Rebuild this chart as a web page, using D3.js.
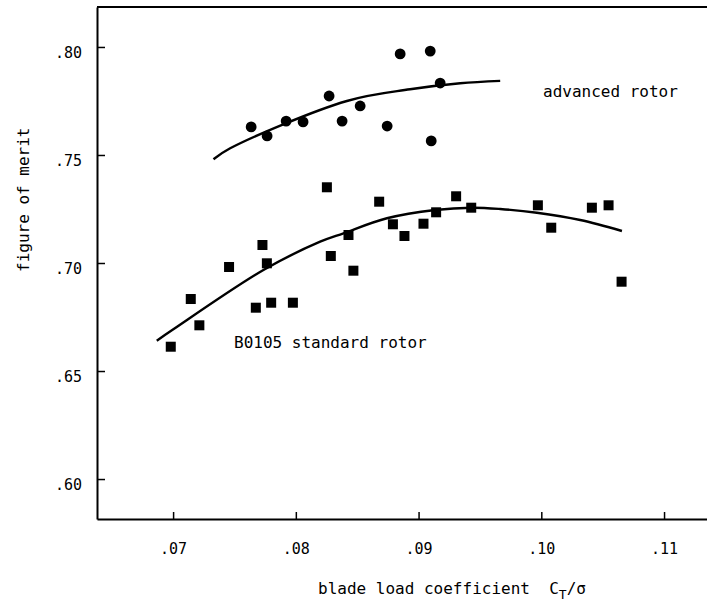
<!DOCTYPE html>
<html>
<head>
<meta charset="utf-8">
<script src="https://cdn.jsdelivr.net/npm/d3@7"></script>
<style>
  body { margin: 0; background: #fff; }
  #chart { width: 707px; height: 609px; }
  text { font-family: "DejaVu Sans Mono", monospace; fill: #000; }
</style>
</head>
<body>
<div id="chart"></div>
<script>
// advanced rotor (circles)
const advX = [0.07636, 0.07766, 0.07921, 0.08059, 0.08271, 0.08377, 0.08524, 0.08744, 0.0885, 0.09095, 0.09176, 0.09103];
const advY = [0.763, 0.7588, 0.7657, 0.7653, 0.7773, 0.7657, 0.7727, 0.7634, 0.7968, 0.7981, 0.7833, 0.7565];

// BO105 standard rotor (squares)
const stdX = [0.06981, 0.07214, 0.07144, 0.07456, 0.07674, 0.07728, 0.07764, 0.07799, 0.07976, 0.08253, 0.08285, 0.08429, 0.08469,
  0.08679, 0.08791, 0.08885, 0.0904, 0.09143, 0.09306, 0.09429, 0.09972, 0.10081, 0.10412, 0.10548, 0.10654];
const stdY = [0.66125, 0.67116, 0.68333, 0.69815, 0.67931, 0.70833, 0.69986, 0.68162, 0.68162, 0.73505, 0.70324, 0.71296, 0.69644,
  0.72838, 0.71792, 0.7125, 0.71819, 0.72347, 0.73088, 0.7256, 0.72671, 0.71634, 0.7256, 0.72671, 0.69134];

// faired curves
const advFitX = [0.07329, 0.07465, 0.08416, 0.08931, 0.09339, 0.09665];
const advFitY = [0.748, 0.7531, 0.775, 0.7804, 0.7832, 0.7843];
const stdFitX = [0.06867, 0.07002, 0.07736, 0.08198, 0.08388, 0.08742, 0.09135, 0.09434, 0.09665, 0.09964, 0.10317, 0.10657];
const stdFitY = [0.66403, 0.6693, 0.69676, 0.70986, 0.71375, 0.7207, 0.72454, 0.7256, 0.725, 0.72329, 0.71991, 0.71481];

const xTicks = [0.07, 0.08, 0.09, 0.10, 0.11];
const yTicks = [0.60, 0.65, 0.70, 0.75, 0.80];

const width = 707, height = 609;
const plotLeft = 97, plotTop = 7, plotBottom = 519, plotRight = 707;

const svg = d3
  .select("#chart")
  .append("svg")
  .attr("width", width)
  .attr("height", height);

const x = d3.scaleLinear().domain([0.0638, 0.1135]).range([plotLeft, plotRight]);
const y = d3.scaleLinear().domain([0.5815, 0.8185]).range([plotBottom, plotTop]);

const fmt = (d) => d3.format(".2f")(d).replace(/^0/, "");

// axes, ticks pointing inward
const xAxis = svg
  .append("g")
  .attr("transform", `translate(0,${plotBottom})`)
  .call(d3.axisBottom(x).tickValues(xTicks).tickSize(-7).tickPadding(24).tickFormat(fmt).tickSizeOuter(0));
const yAxis = svg
  .append("g")
  .attr("transform", `translate(${plotLeft},0)`)
  .call(d3.axisLeft(y).tickValues(yTicks).tickSize(-8).tickPadding(15).tickFormat(fmt).tickSizeOuter(0));

[xAxis, yAxis].forEach((g) => {
  g.select(".domain").attr("stroke", "#000").attr("stroke-width", 2);
  g.selectAll(".tick line").attr("stroke", "#000").attr("stroke-width", 1.5);
  g.selectAll(".tick text")
    .attr("font-family", "DejaVu Sans Mono")
    .attr("font-size", 15)
    .attr("fill", "#000");
});
yAxis.selectAll(".tick text").attr("dy", "0.68em");

// top frame line
svg
  .append("line")
  .attr("x1", plotLeft)
  .attr("x2", plotRight)
  .attr("y1", plotTop)
  .attr("y2", plotTop)
  .attr("stroke", "#000")
  .attr("stroke-width", 2);

// fitted curves
const line = d3
  .line()
  .x((d) => x(d[0]))
  .y((d) => y(d[1]))
  .curve(d3.curveCatmullRom);

svg
  .append("path")
  .attr("d", line(d3.zip(advFitX, advFitY)))
  .attr("fill", "none")
  .attr("stroke", "#000")
  .attr("stroke-width", 2.4);
svg
  .append("path")
  .attr("d", line(d3.zip(stdFitX, stdFitY)))
  .attr("fill", "none")
  .attr("stroke", "#000")
  .attr("stroke-width", 2.4);

// markers
svg
  .append("g")
  .selectAll("circle")
  .data(d3.zip(advX, advY))
  .enter()
  .append("circle")
  .attr("cx", (d) => x(d[0]))
  .attr("cy", (d) => y(d[1]))
  .attr("r", 5.4)
  .attr("fill", "#000");

const sq = 10;
svg
  .append("g")
  .selectAll("rect")
  .data(d3.zip(stdX, stdY))
  .enter()
  .append("rect")
  .attr("x", (d) => x(d[0]) - sq / 2)
  .attr("y", (d) => y(d[1]) - sq / 2)
  .attr("width", sq)
  .attr("height", sq)
  .attr("fill", "#000");

// series labels
svg
  .append("text")
  .attr("x", 543)
  .attr("y", 97)
  .attr("font-size", 16)
  .text("advanced rotor");
svg
  .append("text")
  .attr("x", 234)
  .attr("y", 348)
  .attr("font-size", 16)
  .text("B0105 standard rotor");

// axis titles
const xt = svg
  .append("text")
  .attr("x", 318)
  .attr("y", 594)
  .attr("font-size", 16)
  .attr("xml:space", "preserve");
xt.append("tspan").text("blade load coefficient  C");
xt.append("tspan").attr("dy", 5).attr("font-size", 13).text("T");
xt.append("tspan").attr("dy", -5).text("/σ");

svg
  .append("text")
  .attr("transform", "translate(29,272) rotate(-90)")
  .attr("font-size", 16)
  .text("figure of merit");
</script>
</body>
</html>
